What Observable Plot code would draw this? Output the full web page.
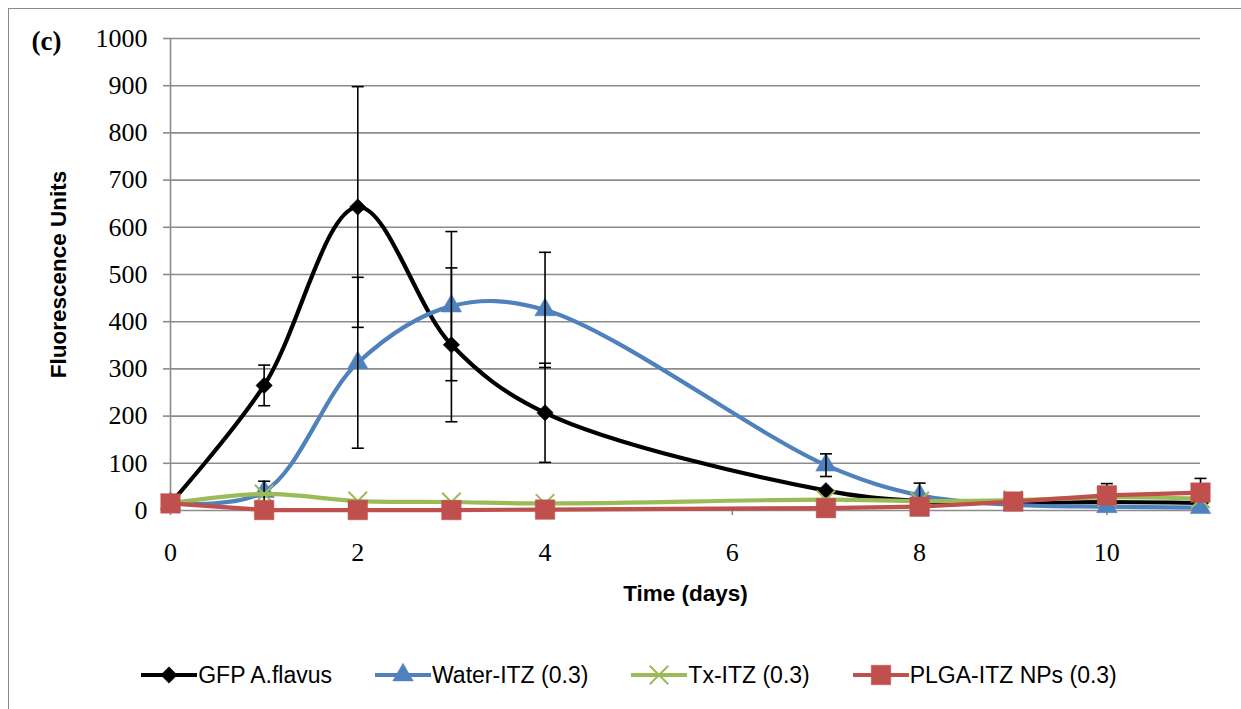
<!DOCTYPE html>
<html><head><meta charset="utf-8">
<script src="https://cdn.jsdelivr.net/npm/d3@7"></script>
<script src="https://cdn.jsdelivr.net/npm/@observablehq/plot@0.6"></script>
<style>
body{margin:0;background:#fff;}
#wrap{position:relative;width:1241px;height:709px;overflow:hidden;}
#frame{position:absolute;left:8px;top:8px;width:1400px;height:900px;border:1.5px solid #8a8a8a;}
#chart{position:absolute;left:0;top:0;}
#legend{position:absolute;left:8px;width:1242px;top:660px;height:30px;display:flex;justify-content:center;gap:43px;font-family:"Liberation Sans";font-size:23px;align-items:center;}
.item{display:flex;align-items:center;gap:1px;white-space:nowrap;}
</style></head>
<body><div id="wrap"><div id="frame"></div><div id="chart"></div><div id="legend"></div></div>
<script>
// Data
const days = [0, 1, 2, 3, 4, 7, 8, 9, 10, 11];
const gfp      = [15, 265, 643, 351, 207, 42, 20, 16, 18, 16];
const gfpErr   = [0, 43, 255, 163, 105, 0, 0, 0, 39, 52];
const water    = [15, 40, 313, 433, 425, 96, 32, 12, 8, 6];
const waterErr = [0, 22, 181, 158, 122, 24, 26, 0, 0, 0];
const tx       = [15, 35, 20, 18, 15, 23, 20, 22, 28, 25];
const txErr    = [0, 0, 0, 0, 0, 0, 0, 0, 0, 0];
const plga     = [15, 1, 1, 1, 2, 5, 8, 19, 32, 38];
const plgaErr  = [0, 0, 0, 0, 0, 0, 0, 0, 0, 0];
const seriesNames = ["GFP A.flavus", "Water-ITZ (0.3)", "Tx-ITZ (0.3)", "PLGA-ITZ NPs (0.3)"];
const xTicks = [0, 2, 4, 6, 8, 10];
const yTicks = [0, 100, 200, 300, 400, 500, 600, 700, 800, 900, 1000];

const series = [
  {name: seriesNames[0], values: gfp, err: gfpErr, color: "#000000", symbol: "diamond2", r: 7.4, curve: "catmull-rom", fill: true},
  {name: seriesNames[1], values: water, err: waterErr, color: "#4F81BD", symbol: "triangle", r: 7.6, curve: "catmull-rom", fill: true},
  {name: seriesNames[2], values: tx, err: txErr, color: "#9BBB59", symbol: "times", r: 8.5, curve: "catmull-rom", fill: false},
  {name: seriesNames[3], values: plga, err: plgaErr, color: "#C0504D", symbol: "square", r: 11, curve: "linear", fill: true}
];
const rowsOf = s => days.map((d, i) => ({series: s.name, day: d, value: s.values[i], err: s.err[i]}));

const capSymbol = {draw(ctx, size) { const r = Math.sqrt(size / Math.PI); ctx.moveTo(-r, 0); ctx.lineTo(r, 0); }};
const grid = "#8c8c8c";
const serif = "Liberation Serif";

const marks = [
  Plot.gridY(yTicks, {stroke: grid, strokeOpacity: 1, strokeWidth: 1.6}),
  Plot.ruleX([0], {stroke: grid, strokeWidth: 1.6}),
  Plot.axisY(yTicks, {tickSize: 7, stroke: grid, strokeWidth: 1.6, tickFormat: () => "", label: null}),
  Plot.axisX(xTicks, {tickSize: 5, stroke: grid, strokeWidth: 1.6, tickFormat: () => "", label: null}),
  Plot.text(yTicks, {y: d => d, frameAnchor: "left", dx: -23, textAnchor: "end", lineAnchor: "middle",
    fontFamily: serif, fontSize: 26, fill: "#000", text: d => String(d)}),
  Plot.text(xTicks, {x: d => d, frameAnchor: "bottom", dy: 32, textAnchor: "middle", lineAnchor: "top",
    fontFamily: serif, fontSize: 26, fill: "#000", text: d => String(d)})
];
for (const s of series) {
  const rows = rowsOf(s);
  const err = rows.filter(d => d.err > 0);
  marks.push(
    Plot.line(rows, {x: "day", y: "value", stroke: s.color, strokeWidth: 4.2, curve: s.curve}),
    Plot.dot(rows, {x: "day", y: "value", symbol: s.symbol, r: s.r,
      fill: s.fill ? s.color : "none", stroke: s.color, strokeWidth: s.fill ? 0.5 : 2}),
    Plot.ruleX(err, {x: "day", y1: d => Math.max(0, d.value - d.err), y2: d => d.value + d.err, stroke: "#000", strokeWidth: 1.6}),
    Plot.dot(err, {x: "day", y: d => d.value + d.err, symbol: capSymbol, r: 6, stroke: "#000", strokeWidth: 1.6, fill: "none"}),
    Plot.dot(err.filter(d => d.value - d.err >= 0), {x: "day", y: d => d.value - d.err, symbol: capSymbol, r: 6, stroke: "#000", strokeWidth: 1.6, fill: "none"})
  );
}
marks.push(
  Plot.text(["Time (days)"], {frameAnchor: "bottom", dy: 83, lineAnchor: "middle", fontFamily: "Liberation Sans", fontWeight: "bold", fontSize: 22.5, fill: "#000"}),
  Plot.text(["Fluorescence Units"], {frameAnchor: "left", dx: -112, rotate: -90, textAnchor: "middle", lineAnchor: "middle", fontFamily: "Liberation Sans", fontWeight: "bold", fontSize: 22.5, fill: "#000"}),
  Plot.text(["(c)"], {frameAnchor: "top-left", dx: -124, dy: 3, lineAnchor: "middle", textAnchor: "middle", fontFamily: serif, fontWeight: "bold", fontSize: 27, fill: "#000"})
);

const chart = Plot.plot({
  width: 1241, height: 640,
  marginLeft: 170, marginRight: 41, marginTop: 38, marginBottom: 130,
  x: {domain: [0, 11]},
  y: {domain: [0, 1000]},
  style: {fontFamily: serif, fontSize: "26px", background: "transparent", overflow: "visible", color: "#000"},
  marks
});
document.getElementById("chart").appendChild(chart);

// Legend (HTML below the plot area)
const legend = document.getElementById("legend");
for (const s of series) {
  const item = document.createElement("div");
  item.className = "item";
  const sym = {diamond2: d3.symbolDiamond2, triangle: d3.symbolTriangle, times: d3.symbolTimes, square: d3.symbolSquare}[s.symbol];
  const size = Math.PI * s.r * s.r;
  const path = d3.symbol(sym, size)();
  const svg = d3.create("svg").attr("width", 56).attr("height", 30);
  svg.append("line").attr("x1", 0).attr("x2", 56).attr("y1", 15).attr("y2", 15).attr("stroke", s.color).attr("stroke-width", 4.2);
  svg.append("path").attr("d", path).attr("transform", "translate(28,15)")
    .attr("fill", s.fill ? s.color : "none").attr("stroke", s.color).attr("stroke-width", s.fill ? 0.5 : 2);
  item.appendChild(svg.node());
  const t = document.createElement("span");
  t.textContent = s.name;
  item.appendChild(t);
  legend.appendChild(item);
}
</script>
</body></html>
